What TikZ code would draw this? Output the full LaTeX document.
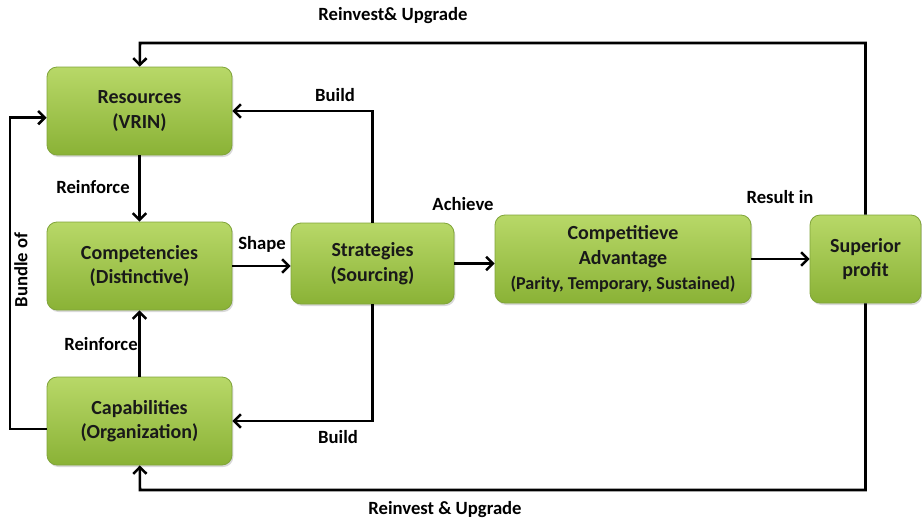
\documentclass[tikz,border=0pt]{standalone}
\usepackage{fontspec}
\setmainfont{Carlito}
\usetikzlibrary{arrows.meta,shadows}

\definecolor{boxtop}{RGB}{184,216,104}
\definecolor{boxbot}{RGB}{138,178,54}
\definecolor{boxedge}{RGB}{128,164,58}

\tikzset{
	block/.style={draw=boxedge, line width=0.6pt, rounded corners=7.5pt,
		top color=boxtop, bottom color=boxbot, align=center,
		font=\bfseries\fontsize{15}{18.5}\selectfont, text=black!90,
		drop shadow={opacity=0.3, shadow xshift=1pt, shadow yshift=-1.5pt}},
	link/.style={-{Straight Barb[length=5pt,width=10pt]}, line width=1.9pt},
	lbl/.style={font=\bfseries\fontsize{14}{16}\selectfont, inner sep=0pt}
}

\begin{document}
\begin{tikzpicture}[x=0.75pt, y=-0.75pt]
		\useasboundingbox (0,0) rectangle (922,522);

		\node[block, minimum width=138.75pt, minimum height=66pt] (res) at (139.5,111) {Resources\\(VRIN)};
		\node[block, minimum width=138.75pt, minimum height=66pt] (comp) at (139.5,266) {Competencies\\(Distinctive)};
		\node[block, minimum width=138.75pt, minimum height=66pt] (cap) at (139.5,421) {Capabilities\\(Organization)};
		\node[block, minimum width=122.25pt, minimum height=60.75pt] (strat) at (372.5,263.5) {Strategies\\(Sourcing)};
		\node[block, minimum width=192pt, minimum height=66pt] (adv) at (623,259) {Competitieve\\Advantage\\{\fontsize{13.6}{16}\selectfont(Parity, Temporary, Sustained)}};
		\node[block, minimum width=83.25pt, minimum height=66pt] (prof) at (865.5,259) {Superior\\profit};

		\coordinate (looptop) at (140,43);
		\coordinate (loopbot) at (140,490);
		\coordinate (bundle) at (10,270);

		\draw[link] (res) -- (comp);
		\draw[link] (cap) -- (comp);
		\draw[link] (comp) -- (comp -| strat.west);
		\draw[link] (strat.east) -- (strat.east -| adv.west);
		\draw[link] (adv) -- (prof);
		\draw[link] (strat) |- (res);
		\draw[link] (strat) |- (cap);
		\draw[link] ([yshift=-6pt]cap.west) -| (bundle) |- ([yshift=-5pt]res.west);
		\draw[link] (prof) |- (looptop) -- (res);
		\draw[link] (prof) |- (loopbot) -- (cap);

		\node[lbl] (reinvtop) at (393,16) {Reinvest\& Upgrade};
		\node[lbl] (reinvbot) at (445,510) {Reinvest \& Upgrade};
		\node[lbl] (reinfup) at (93,187) {Reinforce};
		\node[lbl] (reinfdown) at (101,344) {Reinforce};
		\node[lbl, rotate=90] (bundlelbl) at (21,270) {Bundle of};
		\node[lbl] (buildup) at (335,95) {Build};
		\node[lbl] (builddown) at (338,437) {Build};
		\node[lbl] (shape) at (262,244) {Shape};
		\node[lbl] (achieve) at (463,204) {Achieve};
		\node[lbl] (result) at (780,197) {Result in};
	\end{tikzpicture}
\end{document}
